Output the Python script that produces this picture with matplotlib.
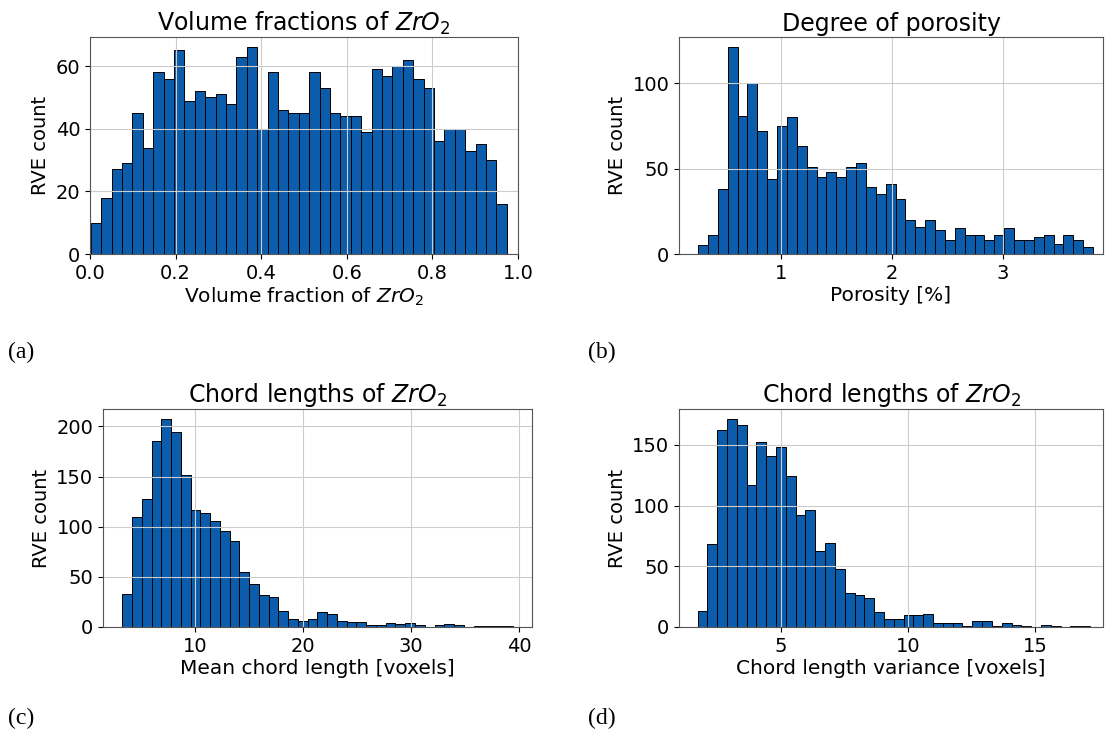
import numpy as np
import matplotlib
matplotlib.use("Agg")
import matplotlib.pyplot as plt

# =========================================================
# Data (bin counts, 40 bins each)
# =========================================================

vf_range = (0.002, 0.974)
vf_counts = [10, 18, 27, 29, 45, 34, 58, 56, 65, 49,
             52, 50, 51, 48, 63, 66, 40, 58, 46, 45,
             45, 58, 53, 45, 44, 44, 39, 59, 57, 60,
             62, 56, 53, 36, 40, 40, 33, 35, 30, 16]

por_range = (0.252, 3.81)
por_counts = [5, 11, 38, 121, 81, 100, 72, 44, 75, 80,
              63, 51, 45, 48, 45, 51, 53, 39, 35, 41,
              32, 20, 16, 20, 14, 8, 15, 11, 11, 8,
              11, 15, 8, 8, 10, 11, 6, 11, 8, 4]

mcl_range = (3.24, 39.4)
mcl_counts = [33, 110, 128, 185, 207, 194, 152, 117, 114, 106,
              96, 86, 55, 43, 32, 30, 16, 8, 6, 8,
              15, 13, 6, 5, 5, 2, 2, 4, 3, 4,
              2, 0, 2, 3, 2, 0, 1, 1, 1, 1]

clv_range = (1.72, 17.17)
clv_counts = [13, 68, 162, 171, 166, 117, 152, 141, 148, 124,
              92, 96, 63, 69, 48, 28, 26, 24, 12, 7,
              7, 10, 10, 11, 3, 3, 3, 1, 5, 5,
              1, 3, 2, 1, 0, 2, 1, 0, 1, 1]

BAR_COLOR = "#0b5caa"

W, H = 1105, 735

panels = [
    # counts, range, title, xlabel, axes box in px (left, top, right, bottom), xlim, xticks, tag, tag pos
    (vf_counts, vf_range, r"Volume fractions of $ZrO_2$", r"Volume fraction of $ZrO_2$",
     (90, 37, 518, 254), (0, 1.0), [0.0, 0.2, 0.4, 0.6, 0.8, 1.0], "(a)", (8, 352)),
    (por_counts, por_range, "Degree of porosity", "Porosity [%]",
     (679, 37, 1103, 254), (0.08, 3.90), [1, 2, 3], "(b)", (588, 352)),
    (mcl_counts, mcl_range, r"Chord lengths of $ZrO_2$", "Mean chord length [voxels]",
     (103, 409, 532, 627), (1.45, 41.2), [10, 20, 30, 40], "(c)", (8, 718)),
    (clv_counts, clv_range, r"Chord lengths of $ZrO_2$", "Chord length variance [voxels]",
     (679, 409, 1103, 627), (0.99, 17.68), [5, 10, 15], "(d)", (588, 718)),
]

fig = plt.figure(figsize=(W / 100, H / 100), dpi=100)

for counts, (lo, hi), title, xlabel, box, xlim, xticks, tag, tagpos in panels:
    l, t, r, b = box
    ax = fig.add_axes([l / W, 1 - b / H, (r - l) / W, (b - t) / H])
    edges = np.linspace(lo, hi, len(counts) + 1)
    centers = (edges[:-1] + edges[1:]) / 2
    ax.hist(centers, bins=edges, weights=counts, color=BAR_COLOR,
            edgecolor="black", linewidth=0.7)
    ax.set_xlim(*xlim)
    ax.set_xticks(xticks)
    ax.grid(True, color="#cccccc", linewidth=0.8)
    ax.set_title(title, fontsize=17, pad=4)
    ax.set_xlabel(xlabel, fontsize=14.5, labelpad=2)
    ax.set_ylabel("RVE count", fontsize=14)
    ax.tick_params(labelsize=14)
    for s in ax.spines.values():
        s.set_color("#555555")
    fig.text(tagpos[0] / W, 1 - tagpos[1] / H, tag, family="Liberation Serif",
             fontsize=17, va="center", ha="left")

plt.savefig("out.png", dpi=100)
